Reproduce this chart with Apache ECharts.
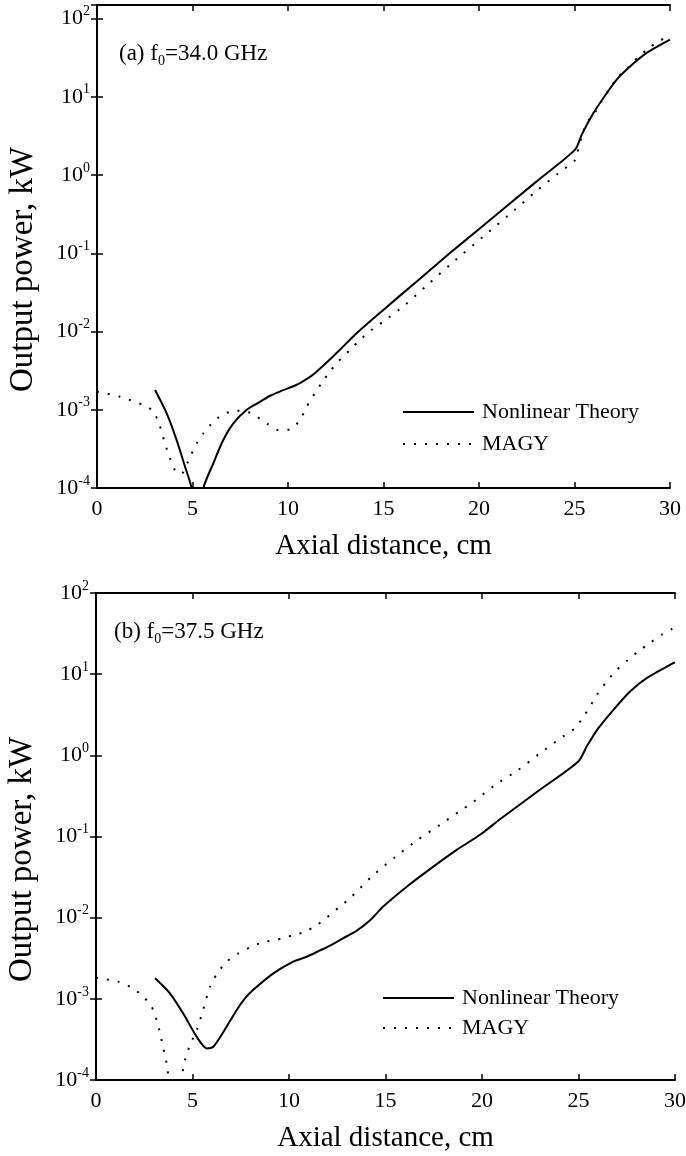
<!DOCTYPE html>
<html><head><meta charset="utf-8">
<script src="https://cdn.jsdelivr.net/npm/echarts@6/dist/echarts.min.js"></script>
<style>html,body{margin:0;padding:0;background:#fff}#c{width:686px;height:1156px}</style>
</head><body><div id="c"></div>
<script>
// ---------- data ----------
const xTicks = [0, 5, 10, 15, 20, 25, 30];
const yTickLabels = ['10^-4', '10^-3', '10^-2', '10^-1', '10^0', '10^1', '10^2'];
const seriesNames = ['Nonlinear Theory', 'MAGY'];
const panelLabels = ['(a) f{sub|0}=34.0 GHz', '(b) f{sub|0}=37.5 GHz'];
const xAxisTitle = 'Axial distance, cm';
const yAxisTitle = 'Output power, kW';

// Panel (a) f0 = 34.0 GHz
const aTheoryX = [3.04, 3.65, 4.17, 4.61, 4.96, 5.27, 5.57, 6.09, 6.61, 7.14, 7.84, 8.53, 9.06, 9.75, 10.28, 10.63, 11.32, 12.54, 13.59, 14.99, 16.74, 18.48, 19.96, 23.02, 25.03, 25.38, 25.99, 26.51, 27.21, 27.82, 28.78, 30];
const aTheoryP = [1.79e-3, 9.0e-4, 4.1e-4, 1.87e-4, 9.9e-5, 3e-5, 1.0e-4, 2.07e-4, 4.1e-4, 6.7e-4, 1.0e-3, 1.26e-3, 1.51e-3, 1.78e-3, 2.0e-3, 2.19e-3, 2.82e-3, 5.3e-3, 9.5e-3, 0.0189, 0.0437, 0.1007, 0.2, 0.83, 2.11, 3.28, 6.2, 9.66, 16.6, 23.4, 36.4, 53.8];
const aMagyX = [0, 1.2, 2.42, 2.95, 3.30, 3.56, 3.82, 4.08, 4.4, 4.87, 5.22, 5.57, 6.09, 6.61, 7.31, 7.84, 8.36, 8.88, 9.49, 10.10, 10.63, 10.98, 11.41, 11.76, 12.2, 12.63, 13.25, 13.77, 14.38, 14.99, 16.13, 17.26, 18.48, 20.75, 21.88, 23.02, 24.15, 25.08, 25.2, 25.38, 25.64, 26.04, 26.42, 27.21, 27.78, 28.34, 28.92, 29.48, 30];
const aMagyP = [1.71e-3, 1.47e-3, 1.15e-3, 9.5e-4, 6.1e-4, 3.7e-4, 2.4e-4, 1.7e-4, 1.5e-4, 2.5e-4, 3.7e-4, 5.0e-4, 7.0e-4, 8.8e-4, 9.7e-4, 9.5e-4, 8.2e-4, 6.7e-4, 5.5e-4, 5.6e-4, 7.4e-4, 1.1e-3, 1.63e-3, 2.19e-3, 3.1e-3, 4.13e-3, 5.83e-3, 7.83e-3, 0.0105, 0.0134, 0.0219, 0.0387, 0.0713, 0.21, 0.36, 0.63, 1.05, 1.6, 2.22, 3.12, 4.63, 6.17, 8.75, 17.1, 23.4, 32.4, 42.2, 52.7, 59];

// Panel (b) f0 = 37.5 GHz
const bTheoryX = [3.06, 3.83, 4.52, 5.22, 5.74, 6.08, 6.6, 7.29, 7.72, 8.15, 9.19, 10.22, 10.92, 11.61, 12.1, 12.8, 13.5, 14.2, 14.88, 16.1, 17.48, 18.69, 19.9, 20.93, 23.0, 24.99, 25.43, 26.03, 26.81, 27.67, 28.53, 29.91, 30];
const bTheoryP = [1.79e-3, 1.17e-3, 6.6e-4, 3.4e-4, 2.45e-4, 2.57e-4, 3.9e-4, 7.3e-4, 1.01e-3, 1.29e-3, 2.06e-3, 2.87e-3, 3.3e-3, 3.95e-3, 4.5e-3, 5.57e-3, 6.9e-3, 9.3e-3, 0.0137, 0.0241, 0.0426, 0.0684, 0.105, 0.163, 0.376, 0.84, 1.29, 2.16, 3.64, 6.12, 8.95, 13.7, 14.0];
const bMagyX = [0, 1.15, 1.76, 2.37, 2.88, 3.14, 3.32, 3.49, 3.66, 3.75, 4.1, 4.44, 4.61, 4.87, 5.22, 5.47, 5.91, 6.25, 6.77, 7.37, 7.98, 8.58, 9.71, 10.22, 10.83, 11.44, 11.95, 12.63, 13.16, 14.28, 15.49, 16.61, 17.82, 18.95, 19.55, 20.67, 21.88, 23.0, 24.21, 24.82, 25.26, 25.6, 25.95, 26.46, 26.98, 27.58, 28.1, 28.7, 29.31, 29.83, 30];
const bMagyP = [1.82e-3, 1.63e-3, 1.41e-3, 1.11e-3, 8.0e-4, 5.5e-4, 3.76e-4, 2.45e-4, 1.6e-4, 1.1e-4, 2e-5, 1.05e-4, 1.76e-4, 2.7e-4, 4.1e-4, 6.3e-4, 1.41e-3, 2.0e-3, 2.87e-3, 3.63e-3, 4.3e-3, 4.9e-3, 5.6e-3, 6.1e-3, 6.7e-3, 8.1e-3, 0.01, 0.0137, 0.0173, 0.032, 0.0556, 0.089, 0.139, 0.213, 0.266, 0.43, 0.66, 1.06, 1.71, 2.16, 3.0, 4.0, 5.57, 8.1, 11.3, 15.1, 19.1, 24.2, 30.6, 36.0, 37.6];

// ---------- chart ----------
const FONT = '"Liberation Serif", "DejaVu Serif", serif';
const zip = (xs, ys) => xs.map((x, i) => [x, ys[i]]);

function yLabel(v) {
  const l = Math.log10(v);
  const e = Math.round(l);
  if (Math.abs(l - e) > 1e-6) return '';
  const s = yTickLabels.find(t => t === '10^' + e);
  if (!s) return '';
  const parts = s.split('^');
  return '{b|' + parts[0] + '}{s|' + parts[1] + '}';
}

const axisLine = { show: true, lineStyle: { color: '#000', width: 2 } };
const axisTick = { show: true, inside: true, length: 6, lineStyle: { color: '#000', width: 1.5 } };

function xAxes(gridIndex) {
  return [
    { type: 'value', gridIndex, min: xTicks[0], max: xTicks[xTicks.length - 1], interval: 5, position: 'bottom',
      axisLine, axisTick, splitLine: { show: false },
      axisLabel: { fontFamily: FONT, fontSize: 22, color: '#000', margin: 10 },
      name: xAxisTitle, nameLocation: 'middle', nameGap: 44,
      nameTextStyle: { fontFamily: FONT, fontSize: 29, color: '#000' } },
    { type: 'value', gridIndex, min: xTicks[0], max: xTicks[xTicks.length - 1], interval: 5, position: 'top',
      axisLine, axisTick, splitLine: { show: false }, axisLabel: { show: false } }
  ];
}
function yAxes(gridIndex, maxV) {
  const lab = { fontFamily: FONT, color: '#000', margin: 7, formatter: yLabel,
    rich: { b: { fontFamily: FONT, fontSize: 22, color: '#000', lineHeight: 28 },
            s: { fontFamily: FONT, fontSize: 14, color: '#000', verticalAlign: 'top', lineHeight: 14 } } };
  return [
    { type: 'log', logBase: 10, gridIndex, min: 1e-4, max: maxV, position: 'left',
      axisLine, axisTick, splitLine: { show: false }, minorTick: { show: false }, axisLabel: lab,
      name: yAxisTitle, nameLocation: 'middle', nameGap: 57, nameRotate: 90,
      nameTextStyle: { fontFamily: FONT, fontSize: 33, color: '#000', padding: [0, 46, 0, 0] } },
    { type: 'log', logBase: 10, gridIndex, min: 1e-4, max: maxV, position: 'right',
      axisLine, axisTick, splitLine: { show: false }, minorTick: { show: false }, axisLabel: { show: false } }
  ];
}

function lineSeries(name, data, xi, yi, dotted) {
  return {
    type: 'line', name, data, xAxisIndex: xi, yAxisIndex: yi,
    symbol: 'none', smooth: 0.25, clip: true, silent: true,
    lineStyle: dotted ? { color: '#000', width: 2, type: [2, 9] } : { color: '#000', width: 2 },
    itemStyle: { color: '#000' }
  };
}

const legendBase = {
  orient: 'vertical', itemWidth: 71, itemHeight: 14, selectedMode: false, data: seriesNames,
  itemStyle: { color: 'transparent', borderWidth: 0, opacity: 0 },
  textStyle: { fontFamily: FONT, fontSize: 22, color: '#000', lineHeight: 22, padding: [0, 0, 0, 3] }
};

const option = {
  animation: false,
  backgroundColor: '#fff',
  grid: [
    { left: 97, top: 5, width: 573, height: 483, outerBoundsMode: 'none', containLabel: false },
    { left: 96, top: 593, width: 579, height: 487, outerBoundsMode: 'none', containLabel: false }
  ],
  title: panelLabels.map((t, i) => ({
    text: t, left: i === 0 ? 114 : 109, top: i === 0 ? 35 : 613,
    textStyle: { fontFamily: FONT, fontSize: 23, fontWeight: 'normal', color: '#000', lineHeight: 28,
      rich: { sub: { fontFamily: FONT, fontSize: 14, color: '#000', verticalAlign: 'bottom', lineHeight: 14 } } }
  })),
  legend: [
    Object.assign({}, legendBase, { left: 397, top: 396, itemGap: 10 }),
    Object.assign({}, legendBase, { left: 377, top: 982, itemGap: 8 })
  ],
  xAxis: [...xAxes(0), ...xAxes(1)],
  yAxis: [...yAxes(0, 149), ...yAxes(1, 100)],
  series: [
    lineSeries(seriesNames[0], zip(aTheoryX, aTheoryP), 0, 0, false),
    lineSeries(seriesNames[1], zip(aMagyX, aMagyP), 0, 0, true),
    lineSeries(seriesNames[0], zip(bTheoryX, bTheoryP), 2, 2, false),
    lineSeries(seriesNames[1], zip(bMagyX, bMagyP), 2, 2, true)
  ]
};

const chart = echarts.init(document.getElementById('c'), null, { renderer: 'canvas' });
chart.setOption(option);
</script>
</body></html>
